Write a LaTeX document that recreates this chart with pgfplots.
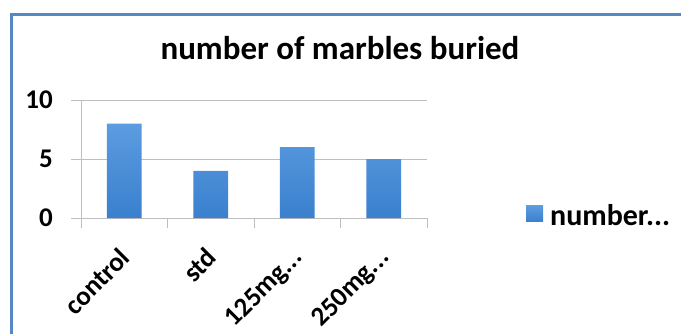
\documentclass[border=0pt]{standalone}
\usepackage{fontspec}
\setmainfont{Carlito}
\usepackage{pgfplots}
\pgfplotsset{compat=1.18}
\definecolor{frameblue}{RGB}{86,137,196}
\definecolor{gridgray}{RGB}{190,190,190}
\definecolor{bartop}{RGB}{92,156,224}
\definecolor{barbot}{RGB}{58,128,206}
\newcommand{\dotsx}{.{}.{}.}
\begin{document}
\begin{tikzpicture}[x=1bp,y=1bp]
\path[use as bounding box] (0,0) rectangle (681,334);
\fill[white] (0,0) rectangle (681,334);
\draw[frameblue, line width=3bp] (11.5,0) -- (11.5,319.5) -- (681,319.5);
\node[anchor=base, inner sep=0pt, font=\fontsize{33bp}{38bp}\selectfont\bfseries] at (340,275) {number of marbles buried};
\begin{axis}[
  at={(81bp,116bp)}, anchor=south west, scale only axis,
  width=346bp, height=118bp,
  xmin=-0.5, xmax=3.5, ymin=0, ymax=10,
  axis lines*=left,
  axis line style={gridgray, line width=1bp},
  tick align=outside, tick pos=left,
  tick style={gridgray, line width=1bp},
  major tick length=10bp,
  ytick={0,5,10},
  ymajorgrids, major grid style={gridgray, line width=1bp},
  xtick={-0.5,0.5,1.5,2.5,3.5}, xticklabels={},
  extra x ticks={0,1,2,3},
  extra x tick labels={{control},{std},{125mg\dotsx},{250mg\dotsx}},
  extra x tick style={major tick length=0pt, grid=none,
    xticklabel style={xshift=-6bp, yshift=-28bp, rotate=45, anchor=north east, inner sep=0pt}},
  /pgf/number format/assume math mode=true,
  ticklabel style={font=\fontsize{27bp}{31bp}\selectfont\bfseries},
  yticklabel style={inner sep=0pt, xshift=-18bp},
  legend style={at={(axis description cs:1.286,0.02)}, anchor=west, draw=none, fill=none,
    inner sep=0pt, font=\fontsize{30bp}{34bp}\selectfont\bfseries,
    nodes={inner sep=0pt}, /tikz/every odd column/.append style={column sep=7bp}},
  legend image code/.code={\fill[#1] (0bp,-6bp) rectangle (17bp,10bp);},
]
\addplot[ybar, bar width=0.4, draw=none, top color=bartop, bottom color=barbot]
  coordinates {(0,8) (1,4) (2,6) (3,5)};
\addlegendentry{number\dotsx}
\end{axis}
\end{tikzpicture}
\end{document}
